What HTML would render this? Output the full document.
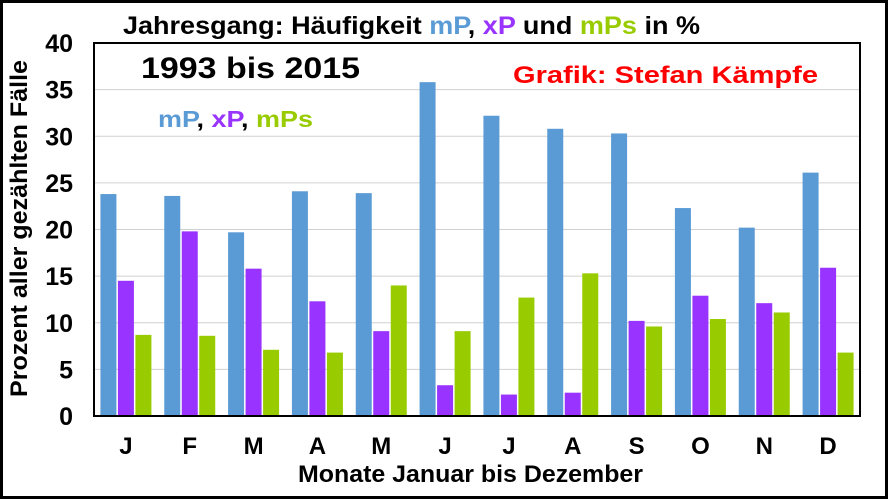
<!DOCTYPE html>
<html><head><meta charset="utf-8"><style>
body{margin:0;background:#fff}
svg{display:block;font-family:"Liberation Sans",Arial,sans-serif;font-weight:bold}
</style></head><body>
<svg width="888" height="499">
<rect x="1.5" y="1.5" width="885" height="496" fill="#fff" stroke="#000" stroke-width="3"/>
<g id="grid"></g>
<g id="bars"></g>
<g id="axes"></g>
<text x="123" y="34" font-size="25" textLength="577" lengthAdjust="spacingAndGlyphs">Jahresgang: Häufigkeit <tspan fill="#5b9bd5">mP</tspan>, <tspan fill="#9933ff">xP</tspan> und <tspan fill="#99cc00">mPs</tspan> in %</text>
<text x="141" y="78" font-size="30" textLength="219" lengthAdjust="spacingAndGlyphs">1993 bis 2015</text>
<text x="513" y="83" font-size="24" fill="#ff0000" textLength="305" lengthAdjust="spacingAndGlyphs">Grafik: Stefan Kämpfe</text>
<text x="158" y="127" font-size="23" textLength="155" lengthAdjust="spacingAndGlyphs"><tspan fill="#5b9bd5">mP</tspan>, <tspan fill="#9933ff">xP</tspan>, <tspan fill="#99cc00">mPs</tspan></text>
<text x="298" y="482" font-size="24" textLength="345" lengthAdjust="spacingAndGlyphs">Monate Januar bis Dezember</text>
<text transform="translate(27,397) rotate(-90)" font-size="24" textLength="337" lengthAdjust="spacingAndGlyphs">Prozent aller gezählten Fälle</text>
</svg>
<script>
const months=["J","F","M","A","M","J","J","A","S","O","N","D"];
const mP=[23.8,23.6,19.7,24.1,23.9,35.8,32.2,30.8,30.3,22.3,20.2,26.1];
const xP=[14.5,19.8,15.8,12.3,9.1,3.3,2.3,2.5,10.2,12.9,12.1,15.9];
const mPs=[8.7,8.6,7.1,6.8,14.0,9.1,12.7,15.3,9.6,10.4,11.1,6.8];
const yTicks=[0,5,10,15,20,25,30,35,40];
const NS="http://www.w3.org/2000/svg";
const L=94,R=860,T=43,B=416,YMAX=40;
const y=v=>B-(B-T)*v/YMAX;
const gw=(R-L)/months.length;
const x=i=>L+gw*i;
const grid=document.getElementById('grid'),bars=document.getElementById('bars'),axes=document.getElementById('axes');
function mk(tag,attrs,parent){const e=document.createElementNS(NS,tag);for(const k in attrs)e.setAttribute(k,attrs[k]);parent.appendChild(e);return e;}
yTicks.forEach(t=>{
  if(t>0&&t<YMAX){const g=mk('line',{x1:L,x2:R,y1:y(t),y2:y(t),stroke:'#d0d0d0','stroke-width':1},grid);
  
  }
  const tx=mk('text',{x:L-21,y:y(t)+9,'text-anchor':'end','font-size':25},axes);
  tx.textContent=t;
  
  
});
const series=[[mP,'#5b9bd5','mP'],[xP,'#9933ff','xP'],[mPs,'#99cc00','mPs']];
const bw=16,gap=1.5;
months.forEach((m,i)=>{
  const c=x(i)+gw/2;
  series.forEach((s,j)=>{
    const bx=c-1.5*bw-gap+j*(bw+gap);
    const r=mk('rect',{x:bx,y:y(s[0][i]),width:bw,height:B-y(s[0][i]),fill:s[1]},bars);
    
    
  });
  const t=mk('text',{x:c,y:454,'text-anchor':'middle','font-size':24},axes);
  t.textContent=m;
  
  
});
const f=mk('rect',{x:L,y:T,width:R-L,height:B-T,fill:'none',stroke:'#000','stroke-width':2},axes);


</script>
</body></html>
